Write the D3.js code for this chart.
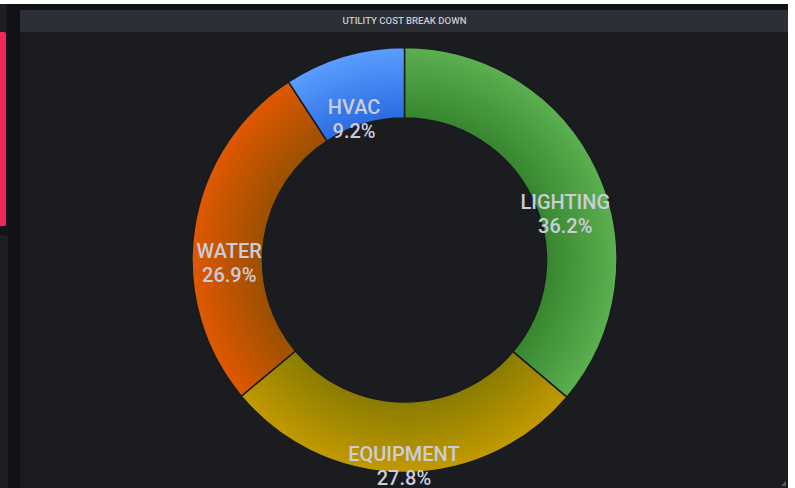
<!DOCTYPE html>
<html>
<head>
<meta charset="utf-8">
<script src="https://cdn.jsdelivr.net/npm/d3@7"></script>
<style>
  html, body { margin: 0; padding: 0; background: #ffffff; overflow: hidden; }
  svg { display: block; }
</style>
</head>
<body>
<svg id="chart" width="795" height="488"></svg>
<script>
const title = "UTILITY COST BREAK DOWN";
const categories = ["LIGHTING", "EQUIPMENT", "WATER", "HVAC"];
const values = [36.2, 27.8, 26.9, 9.2];
const innerColors = ["#37862f", "#8a7c00", "#9a5000", "#2b6be0"];
const outerColors = ["#5cb050", "#c29a00", "#e05800", "#5a9eff"];

const svg = d3.select("#chart");
const W = 795, H = 488;

// page chrome
svg.append("rect").attr("x", 0).attr("y", 4).attr("width", 788).attr("height", H - 4).attr("fill", "#111217");
svg.append("rect").attr("x", 0).attr("y", 4).attr("width", 8).attr("height", H - 4).attr("fill", "#1d1f24");
svg.append("rect").attr("x", -4).attr("y", 32).attr("width", 10).attr("height", 194).attr("rx", 2).attr("fill", "#f0285a");
svg.append("rect").attr("x", 6).attr("y", 4).attr("width", 2).attr("height", H).attr("fill", "#15161a");
svg.append("rect").attr("x", -4).attr("y", 226).attr("width", 11).attr("height", 10).attr("fill", "#141519");
svg.append("rect").attr("x", -4).attr("y", 236).attr("width", 11).attr("height", 260).attr("rx", 3)
  .attr("fill", "#1c1e22").attr("stroke", "#24272c").attr("stroke-width", 1);

// panel
svg.append("rect").attr("x", 20).attr("y", 10).attr("width", 768).attr("height", H - 10).attr("fill", "#1a1c20");
svg.append("rect").attr("x", 20).attr("y", 10).attr("width", 768).attr("height", 22).attr("fill", "#2c2f35");
svg.append("text").attr("x", 404.5).attr("y", 24.3).attr("text-anchor", "middle")
  .attr("font-family", "Roboto, sans-serif").attr("font-size", 9.6).attr("font-weight", 500)
  .attr("fill", "#c7c9d1").text(title);

// resize handle
svg.append("path").attr("d", "M786 481 L786 486 L781 486 Z").attr("fill", "#5a5d66");

// donut
const cx = 404.5, cy = 260, outerR = 212.5, innerR = 142;
const g = svg.append("g").attr("transform", `translate(${cx},${cy})`);
const defs = svg.append("defs");
categories.forEach((c, i) => {
  const grad = defs.append("radialGradient").attr("id", "grad" + i)
    .attr("gradientUnits", "userSpaceOnUse").attr("cx", 0).attr("cy", 0).attr("r", outerR);
  grad.append("stop").attr("offset", innerR / outerR).attr("stop-color", innerColors[i]);
  grad.append("stop").attr("offset", 1).attr("stop-color", outerColors[i]);
});

const pie = d3.pie().sort(null).value(d => d.value);
const data = pie(categories.map((c, i) => ({ name: c, value: values[i], i })));
const arc = d3.arc().innerRadius(innerR).outerRadius(outerR);

g.selectAll("path.slice").data(data).join("path")
  .attr("class", "slice")
  .attr("d", arc)
  .attr("fill", d => `url(#grad${d.data.i})`)
  .attr("stroke", "#181b1f").attr("stroke-width", 1.5);

const labels = g.selectAll("text.lbl").data(data).join("text")
  .attr("class", "lbl")
  .attr("transform", d => `translate(${arc.centroid(d)})`)
  .attr("text-anchor", "middle")
  .attr("font-family", "Roboto, sans-serif").attr("font-size", 20).attr("font-weight", 500)
  .attr("fill", "#ccccdc");
labels.append("tspan").attr("x", 0).attr("dy", "1.2em").text(d => d.data.name);
labels.append("tspan").attr("x", 0).attr("dy", "1.2em").text(d => d.data.value.toFixed(1) + "%");
</script>
</body>
</html>
